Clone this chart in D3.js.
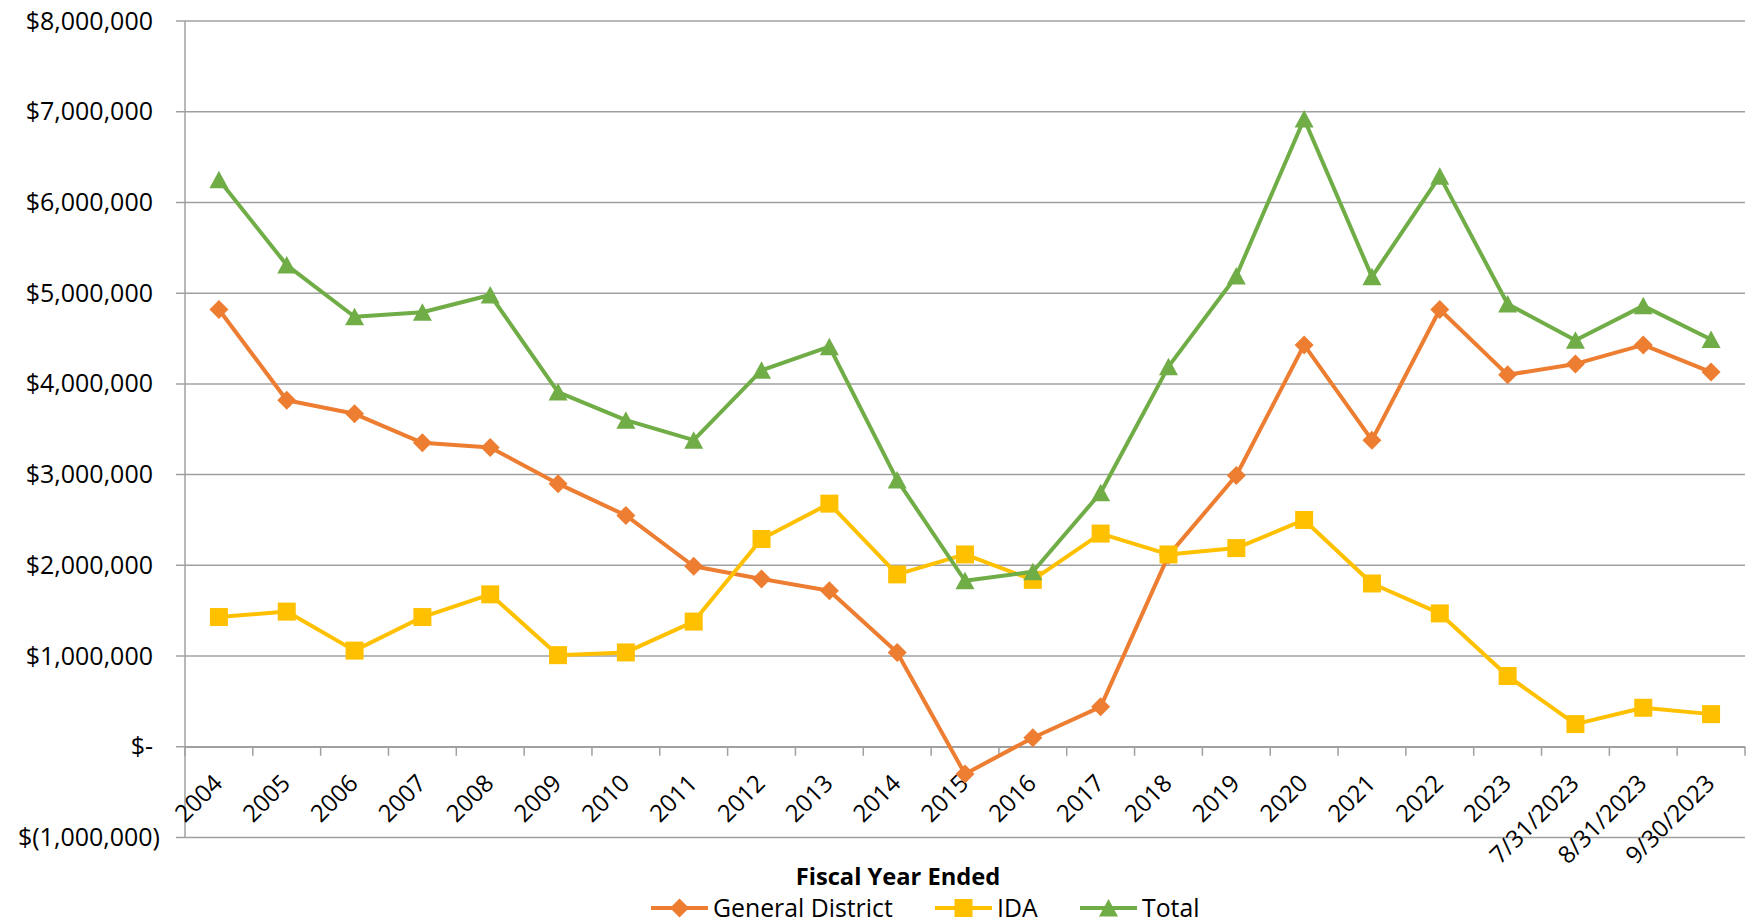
<!DOCTYPE html>
<html>
<head>
<meta charset="utf-8">
<script src="https://cdn.jsdelivr.net/npm/d3@7"></script>
<style>
  body { margin: 0; background: #fff; }
  text { font-family: "Open Sans", sans-serif; fill: #000; }
</style>
</head>
<body>
<div id="chart"></div>
<script>
// values, in dollars
var CATEGORIES = ["2004", "2005", "2006", "2007", "2008", "2009", "2010", "2011", "2012",
  "2013", "2014", "2015", "2016", "2017", "2018", "2019", "2020", "2021", "2022", "2023",
  "7/31/2023", "8/31/2023", "9/30/2023"];

var GENERAL_DISTRICT = [4820000, 3820000, 3670000, 3350000, 3300000, 2900000, 2550000,
  1990000, 1850000, 1720000, 1040000, -300000, 100000, 440000, 2110000, 2990000, 4430000,
  3380000, 4820000, 4100000, 4220000, 4430000, 4130000];

var IDA = [1430000, 1490000, 1060000, 1430000, 1680000, 1010000, 1040000, 1380000, 2290000,
  2680000, 1900000, 2120000, 1840000, 2350000, 2120000, 2190000, 2500000, 1800000, 1470000,
  780000, 250000, 430000, 360000];

var TOTAL = [6250000, 5310000, 4740000, 4790000, 4980000, 3910000, 3600000, 3380000, 4150000,
  4410000, 2940000, 1830000, 1930000, 2800000, 4190000, 5190000, 6920000, 5180000, 6290000,
  4880000, 4480000, 4860000, 4490000];

var Y_TICKS = [-1000000, 0, 1000000, 2000000, 3000000, 4000000, 5000000, 6000000, 7000000, 8000000];

var SERIES_NAMES = ["General District", "IDA", "Total"];
var X_TITLE = "Fiscal Year Ended";

var COLORS = ["#ED7D31", "#FFC000", "#70AD47"];
var SHAPES = ["diamond", "square", "triangle"];
var GRID = "#a0a0a0";

function fmtDollar(v) {
  if (v === 0) return "$-";
  if (v < 0) return "$(" + d3.format(",")(-v) + ")";
  return "$" + d3.format(",")(v);
}

function markerPath(shape) {
  if (shape === "diamond") return "M0,-9.5L9.5,0L0,9.5L-9.5,0Z";
  if (shape === "square") return "M-9,-9L9,-9L9,9L-9,9Z";
  return "M0,-9L9.5,8.5L-9.5,8.5Z";
}

var W = 1754, H = 923;
// plot box (note: "top" is taken by window.top)
var plotLeft = 185, plotRight = 1745, plotTop = 21, plotBottom = 837.5;

var svg = d3.select("#chart").append("svg")
  .attr("width", W)
  .attr("height", H);

var x = d3.scaleBand().domain(CATEGORIES).range([plotLeft, plotRight]).padding(0);
var y = d3.scaleLinear().domain([-1000000, 8000000]).range([plotBottom, plotTop]);

// horizontal gridlines (with the small outside tick)
svg.append("g").selectAll("line")
  .data(Y_TICKS)
  .enter().append("line")
  .attr("x1", plotLeft - 9)
  .attr("x2", plotRight)
  .attr("y1", function(d) { return y(d); })
  .attr("y2", function(d) { return y(d); })
  .attr("stroke", GRID)
  .attr("stroke-width", 1.5);

// vertical axis line
svg.append("line")
  .attr("x1", plotLeft).attr("x2", plotLeft)
  .attr("y1", plotTop).attr("y2", plotBottom)
  .attr("stroke", GRID)
  .attr("stroke-width", 1.5);

// y labels
var yAxis = d3.axisLeft(y).tickValues(Y_TICKS).tickFormat(fmtDollar).tickSize(0).tickPadding(32);
var gy = svg.append("g")
  .attr("transform", "translate(" + plotLeft + ",0)")
  .call(yAxis);
gy.select(".domain").remove();
gy.selectAll("text")
  .attr("font-size", "25px")
  .attr("font-family", "Open Sans, sans-serif")
  .attr("fill", "#000")
  .attr("dx", function(d) { return d < 0 ? 7 : 0; });

// x axis sits on the zero line, ticks on category boundaries
var y0 = y(0);
var xAxis = d3.axisBottom(x).tickSize(0).tickSizeOuter(0);
var gx = svg.append("g")
  .attr("transform", "translate(0," + y0 + ")")
  .call(xAxis);
gx.select(".domain").attr("stroke", GRID).attr("stroke-width", 1.5);
gx.selectAll("text")
  .attr("x", 0).attr("y", 0).attr("dy", 0)
  .attr("text-anchor", "end")
  .attr("transform", "translate(5,38) rotate(-45)")
  .attr("font-size", "24px")
  .attr("font-family", "Open Sans, sans-serif")
  .attr("fill", "#000");

svg.append("g").selectAll("line")
  .data(d3.range(CATEGORIES.length + 1))
  .enter().append("line")
  .attr("x1", function(i) { return plotLeft + i * x.step(); })
  .attr("x2", function(i) { return plotLeft + i * x.step(); })
  .attr("y1", y0)
  .attr("y2", y0 + 9)
  .attr("stroke", GRID)
  .attr("stroke-width", 1.5);

// series
var allSeries = [GENERAL_DISTRICT, IDA, TOTAL];
var line = d3.line()
  .x(function(d, i) { return x(CATEGORIES[i]) + x.bandwidth() / 2; })
  .y(function(d) { return y(d); });

allSeries.forEach(function(values, s) {
  var g = svg.append("g");
  g.append("path")
    .attr("d", line(values))
    .attr("fill", "none")
    .attr("stroke", COLORS[s])
    .attr("stroke-width", 4)
    .attr("stroke-linejoin", "round");
  g.selectAll("path.mark")
    .data(values)
    .enter().append("path")
    .attr("class", "mark")
    .attr("d", markerPath(SHAPES[s]))
    .attr("fill", COLORS[s])
    .attr("transform", function(d, i) {
      return "translate(" + (x(CATEGORIES[i]) + x.bandwidth() / 2) + "," + y(d) + ")";
    });
});

// axis title
svg.append("text")
  .attr("x", 898)
  .attr("y", 885)
  .attr("text-anchor", "middle")
  .attr("font-size", "23.7px")
  .attr("font-weight", "bold")
  .text(X_TITLE);

// legend
var legendX = [651, 935, 1080];
var legendY = 908;
SERIES_NAMES.forEach(function(name, s) {
  var g = svg.append("g").attr("transform", "translate(" + legendX[s] + "," + legendY + ")");
  g.append("line")
    .attr("x1", 0).attr("x2", 57)
    .attr("stroke", COLORS[s])
    .attr("stroke-width", 4);
  g.append("path")
    .attr("d", markerPath(SHAPES[s]))
    .attr("fill", COLORS[s])
    .attr("transform", "translate(28.5,0)");
  g.append("text")
    .attr("x", 62)
    .attr("dy", "0.35em")
    .attr("font-size", "24.8px")
    .text(name);
});
</script>
</body>
</html>
